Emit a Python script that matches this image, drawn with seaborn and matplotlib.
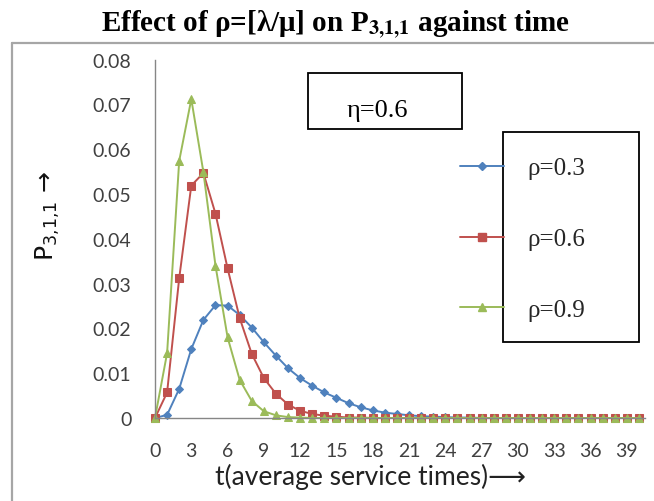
import numpy as np
import pandas as pd
import matplotlib
matplotlib.use("Agg")
import matplotlib.pyplot as plt
from matplotlib.lines import Line2D
from matplotlib.patches import Rectangle
import seaborn as sns

# ---------------- data ----------------
t = list(range(0, 41))
rho_labels = ["ρ=0.3", "ρ=0.6", "ρ=0.9"]
p_rho03 = [0, 0.0007, 0.0065, 0.0154, 0.0219, 0.0252, 0.0251, 0.0230, 0.0202, 0.0169,
           0.0139, 0.0111, 0.0089, 0.0072, 0.0057, 0.0045, 0.0033, 0.0024, 0.0017, 0.0012,
           0.0009, 0.0006, 0.0004, 0.0003, 0.0002, 0.0001, 0.0001, 0, 0, 0,
           0, 0, 0, 0, 0, 0, 0, 0, 0, 0, 0]
p_rho06 = [0, 0.0057, 0.0312, 0.0519, 0.0547, 0.0456, 0.0334, 0.0223, 0.0143, 0.0089,
           0.0054, 0.0030, 0.0016, 0.0009, 0.0005, 0.0003, 0.0001, 0.0001, 0, 0,
           0, 0, 0, 0, 0, 0, 0, 0, 0, 0,
           0, 0, 0, 0, 0, 0, 0, 0, 0, 0, 0]
p_rho09 = [0, 0.0145, 0.0574, 0.0712, 0.0549, 0.0340, 0.0180, 0.0085, 0.0038, 0.0015,
           0.0006, 0.0002, 0.0001, 0, 0, 0, 0, 0, 0, 0,
           0, 0, 0, 0, 0, 0, 0, 0, 0, 0,
           0, 0, 0, 0, 0, 0, 0, 0, 0, 0, 0]
x_ticks = list(range(0, 40, 3))
y_ticks = [0, 0.01, 0.02, 0.03, 0.04, 0.05, 0.06, 0.07, 0.08]
y_ticklabels = ["0", "0.01", "0.02", "0.03", "0.04", "0.05", "0.06", "0.07", "0.08"]

series = [p_rho03, p_rho06, p_rho09]
colors = ["#4F81BD", "#C0504D", "#9BBB59"]
markers = ["D", "s", "^"]
msizes = [4.0, 6.0, 6.0]

# ---------------- figure ----------------
sns.set_theme(style="white")
plt.rcParams["font.family"] = ["Lato", "DejaVu Sans"]

W, H = 654, 502
fig = plt.figure(figsize=(W / 100, H / 100), dpi=100)
fig.patch.set_facecolor("white")

def fx(px):
    return px / W

def fy(py):
    return 1 - py / H

ax = fig.add_axes([fx(155), fy(419), fx(645) - fx(155), fy(60.7) - fy(419)])
ax.set_facecolor("white")

for lab, vals, c, m, ms in zip(rho_labels, series, colors, markers, msizes):
    d = pd.DataFrame({"t": t, "P": vals})
    sns.lineplot(data=d, x="t", y="P", ax=ax, color=c, marker=m, markersize=ms,
                 markeredgecolor=c, linewidth=1.4, clip_on=False, legend=False)

ax.set_xlim(0, 40.5)
ax.set_ylim(0, 0.08)
ax.set_xticks(x_ticks)
ax.set_xticklabels([str(v) for v in x_ticks])
ax.set_yticks(y_ticks)
ax.set_yticklabels(y_ticklabels)

for s in ["top", "right"]:
    ax.spines[s].set_visible(False)
for s in ["left", "bottom"]:
    ax.spines[s].set_color("#868686")
    ax.spines[s].set_linewidth(1.0)

ax.tick_params(axis="both", direction="out", length=6, width=1.0, color="#868686",
               labelcolor="#404040", labelsize=14)
ax.tick_params(axis="y", pad=11)
ax.tick_params(axis="x", pad=11)

ax.set_xlabel("t(average service times)⟶", fontsize=19, color="#222222",
              family=["Lato", "DejaVu Sans"])
ax.xaxis.set_label_coords((370 - 155) / (645 - 155), (419 - 477) / (419 - 60.7))
ax.xaxis.label.set_va("center")

ax.set_ylabel(r"P$_{3{,}1{,}1}$ →", fontsize=18, color="#111111",
              family=["DejaVu Sans"], math_fontfamily="dejavusans")
ax.yaxis.set_label_coords((48 - 155) / (645 - 155), (419 - 216) / (419 - 60.7))
ax.yaxis.label.set_va("center")

# title
fig.text(fx(336), fy(31), r"Effect of ρ=[λ/μ] on P$_\mathbf{3{,}1{,}1}$ against time",
         ha="center", va="baseline", fontsize=21, fontweight="bold",
         family=["Liberation Serif"], math_fontfamily="stix", color="black")

# chart border (top & left visible)
fig.add_artist(Line2D([fx(12), fx(12)], [fy(44), 0], transform=fig.transFigure,
                      color="#A6A6A6", linewidth=1.6))
fig.add_artist(Line2D([fx(12), 1], [fy(44), fy(44)], transform=fig.transFigure,
                      color="#A6A6A6", linewidth=1.6))

# eta box
fig.add_artist(Rectangle((fx(308), fy(130)), fx(462) - fx(308), fy(74) - fy(130),
                         transform=fig.transFigure, fill=False, edgecolor="black",
                         linewidth=1.3))
fig.text(fx(377), fy(117), "η=0.6", ha="center", va="baseline", fontsize=19,
         family=["Liberation Serif"], color="black")

# legend
handles = [Line2D([], [], color=c, marker=m, markersize=ms, markeredgecolor=c, linewidth=1.4)
           for c, m, ms in zip(colors, markers, msizes)]
leg = fig.legend(handles, rho_labels, loc="center left",
                 bbox_to_anchor=(fx(460), fy(240)), bbox_transform=fig.transFigure,
                 frameon=False, prop={"family": "Liberation Serif", "size": 18},
                 handlelength=1.75, handletextpad=0.95, labelspacing=1.93,
                 borderpad=0, borderaxespad=0)
fig.add_artist(Rectangle((fx(503), fy(343)), fx(639) - fx(503), fy(133) - fy(343),
                         transform=fig.transFigure, fill=False, edgecolor="black",
                         linewidth=1.3))

fig.savefig("out.png", dpi=100, facecolor="white")
